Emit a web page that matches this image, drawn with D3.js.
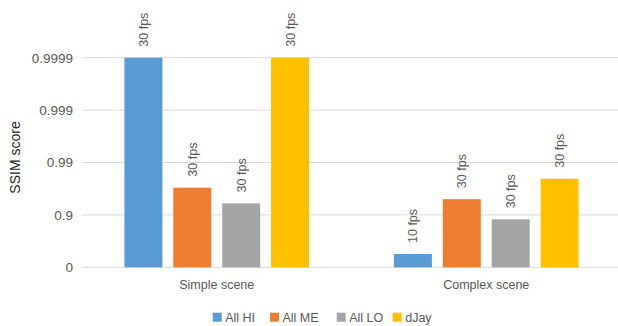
<!DOCTYPE html>
<html><head><meta charset="utf-8">
<script src="https://cdn.jsdelivr.net/npm/d3@7"></script>
<style>body{margin:0;background:#fff}svg{display:block}</style>
</head><body>
<svg id="c" width="618" height="326"></svg>
<script>
const categories = ["Simple scene", "Complex scene"];
const seriesNames = ["All HI", "All ME", "All LO", "dJay"];
const colors = ["#5B9BD5", "#ED7D31", "#A5A5A5", "#FFC000"];
// SSIM scores per series, one value per category
const allHI = [0.9999, 0.443];
const allME = [0.9698, 0.9499];
const allLO = [0.9397, 0.8787];
const dJay  = [0.9999, 0.9796];
const fpsHI = ["30 fps", "10 fps"];
const fpsME = ["30 fps", "30 fps"];
const fpsLO = ["30 fps", "30 fps"];
const fpsDJ = ["30 fps", "30 fps"];
const tickValues = [0, 0.9, 0.99, 0.999, 0.9999];
const tickLabels = ["0", "0.9", "0.99", "0.999", "0.9999"];

(function () {
const seriesVals = [allHI, allME, allLO, dJay];
const seriesFps = [fpsHI, fpsME, fpsLO, fpsDJ];
const font = "'Liberation Sans', Arial, sans-serif";
const svg = d3.select("#c");

const pLeft = 82, pRight = 621, pTop = 57.7, pBottom = 267.3;
// y: log scale on the error (1 - SSIM)
const yLog = d3.scaleLog().domain([1, 1e-4]).range([pBottom, pTop]);
const y = s => yLog(Math.max(1 - s, 1e-4));
const x0 = d3.scaleBand().domain(categories).range([pLeft, pRight]).paddingInner(0).paddingOuter(0);
const x1 = d3.scaleBand().domain(seriesNames).range([0, x0.bandwidth()]).paddingInner(0.223).paddingOuter(0.867);

// gridlines
svg.append("g").selectAll("line").data(tickValues).join("line")
  .attr("x1", pLeft).attr("x2", 618)
  .attr("y1", d => y(d)).attr("y2", d => y(d))
  .attr("stroke", "#D9D9D9").attr("stroke-width", 1);

// y tick labels
const yAxis = d3.axisLeft(yLog).tickValues(tickValues.map(t => Math.max(1 - t, 1e-4)))
  .tickFormat((d, i) => tickLabels[i]).tickSize(0).tickPadding(9);
const ya = svg.append("g").attr("transform", `translate(${pLeft},0)`).call(yAxis);
ya.select(".domain").remove();
ya.selectAll("text").attr("font-family", font).attr("font-size", "13.5px").attr("fill", "#595959");

// x category labels
const xAxis = d3.axisBottom(x0).tickSize(0).tickPadding(13);
const xa = svg.append("g").attr("transform", `translate(0,${pBottom})`).call(xAxis);
xa.select(".domain").remove();
xa.selectAll("text").attr("font-family", font).attr("font-size", "12.5px").attr("fill", "#595959");

// bars
const rows = [];
categories.forEach((c, ci) => seriesNames.forEach((s, si) => rows.push({c, s, si, v: seriesVals[si][ci], fps: seriesFps[si][ci]})));
svg.append("g").selectAll("rect").data(rows).join("rect")
  .attr("x", d => x0(d.c) + x1(d.s))
  .attr("width", x1.bandwidth())
  .attr("y", d => y(d.v))
  .attr("height", d => pBottom - y(d.v))
  .attr("fill", d => colors[d.si]);

// data labels
svg.append("g").selectAll("text").data(rows).join("text")
  .attr("transform", d => `translate(${x0(d.c) + x1(d.s) + x1.bandwidth() / 2 + 4.5},${y(d.v) - 11}) rotate(-90)`)
  .attr("font-family", font).attr("font-size", "12.5px").attr("fill", "#595959")
  .text(d => d.fps);

// y title
svg.append("text")
  .attr("transform", `translate(20,157.5) rotate(-90)`)
  .attr("text-anchor", "middle")
  .attr("font-family", font).attr("font-size", "14px").attr("fill", "#262626")
  .text("SSIM score");

// legend
const legX = [212.7, 270, 336.7, 392.7];
const lg = svg.append("g").selectAll("g").data(seriesNames).join("g")
  .attr("transform", (d, i) => `translate(${legX[i]},312.7)`);
lg.append("rect").attr("width", 9).attr("height", 9).attr("fill", (d, i) => colors[i]);
lg.append("text").attr("x", 12.5).attr("y", 9)
  .attr("font-family", font).attr("font-size", "12.5px").attr("fill", "#595959")
  .text(d => d);
})();
</script>
</body></html>
